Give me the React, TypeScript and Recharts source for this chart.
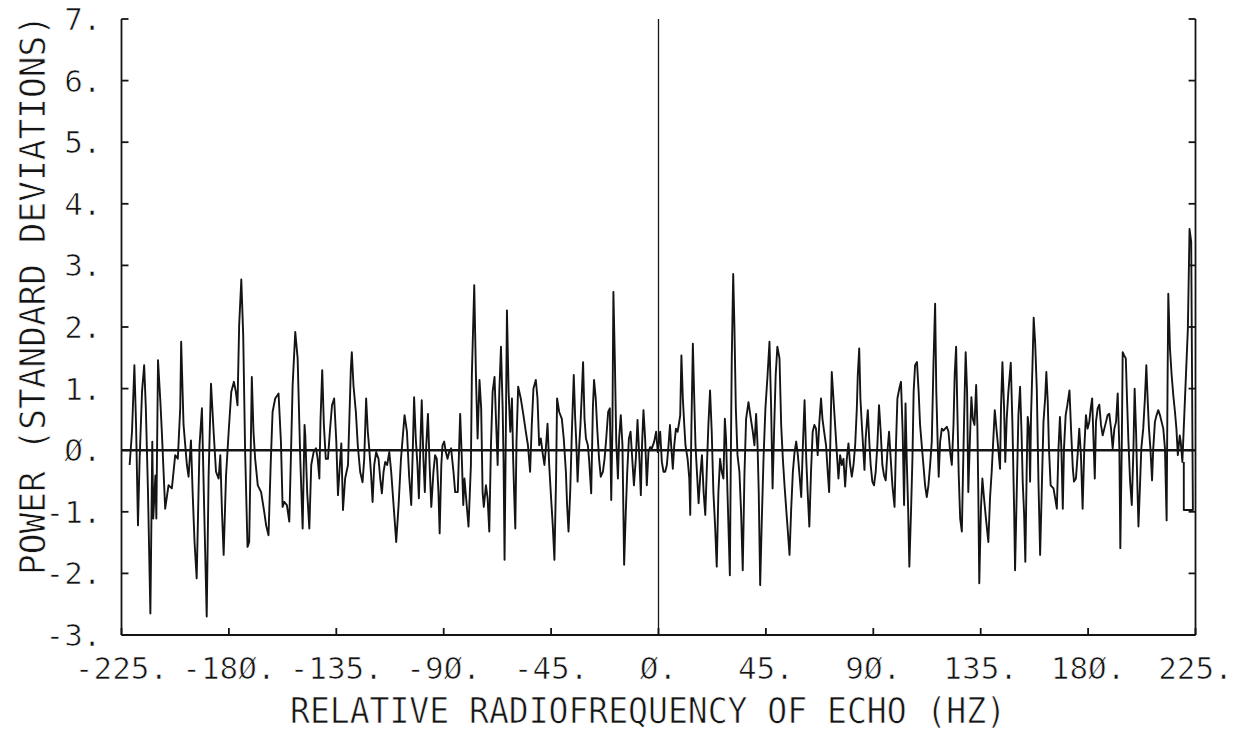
import { Label, Line, LineChart, ReferenceLine, XAxis, YAxis } from "recharts";

const xTicks = [-225, -180, -135, -90, -45, 0, 45, 90, 135, 180, 225];
const yTicks = [-3, -2, -1, 0, 1, 2, 3, 4, 5, 6, 7];

// [relative frequency (Hz), power (standard deviations)]
const bandA: [number, number][] = [
  [-221.6, -0.24], [-220.6, 0.3], [-219.6, 1.38], [-218.9, 0.41], [-218.1, -1.22], [-217.4, -0.14],
  [-216.4, 0.95], [-215.5, 1.38], [-214.8, 0.68], [-213.9, -0.68], [-212.9, -2.65], [-212.1, 0.14],
  [-211.7, -1.11], [-210.8, -0.41], [-210.4, -1.11], [-209.7, 1.46], [-208.7, 0.78], [-208.1, 0.3],
  [-206.7, -0.95], [-205.3, -0.57], [-203.9, -0.62], [-202.5, -0.08], [-201.4, -0.14], [-200.4, 0.68],
  [-200.0, 1.76], [-199.0, 0.41], [-197.6, -0.24], [-196.9, -0.43], [-195.9, 0.16], [-195.2, -0.68],
  [-194.4, -1.49], [-193.5, -2.08], [-192.3, 0.08], [-191.3, 0.68], [-190.2, -1.22], [-189.3, -2.7],
  [-188.5, -0.41], [-187.5, 1.08], [-186.4, 0.3], [-185.4, -0.35], [-184.3, -0.46], [-183.6, -0.08],
  [-182.9, -1.0], [-182.2, -1.7], [-181.2, -0.41], [-180.1, 0.3], [-179.0, 0.95], [-177.9, 1.11],
  [-177.1, 0.95], [-176.4, 0.73], [-175.7, 2.03], [-174.8, 2.77], [-174.0, 1.86], [-173.2, -0.03],
  [-172.2, -1.57], [-171.5, -1.49], [-170.9, -0.14], [-170.4, 1.19], [-169.7, 0.3], [-169.0, -0.14],
  [-167.9, -0.57], [-166.5, -0.68], [-165.2, -1.0], [-164.4, -1.22], [-163.4, -1.38], [-162.5, -0.24],
  [-161.7, 0.62], [-160.6, 0.84], [-159.2, 0.92], [-158.2, 0.14], [-157.5, -0.92], [-156.8, -0.84],
  [-155.7, -0.89], [-154.7, -1.16], [-153.9, 0.08], [-153.3, 1.05], [-152.2, 1.92], [-151.2, 1.49],
  [-150.1, -0.14],
];

const bandB: [number, number][] = [
  [-149.1, -1.27], [-148.3, 0.41], [-148.0, 0.24], [-147.2, -0.68], [-146.3, -1.27], [-145.5, -0.24],
  [-144.5, -0.03], [-143.5, 0.03], [-142.8, -0.14], [-142.1, -0.46], [-141.6, 0.51], [-140.9, 1.3],
  [-140.2, 0.41], [-139.4, -0.14], [-138.5, -0.14], [-137.7, 0.3], [-136.8, 0.73], [-135.9, 0.84],
  [-135.0, 0.14], [-134.3, -0.73], [-133.5, -0.24], [-132.9, 0.11], [-132.2, -0.97], [-131.3, -0.46],
  [-130.1, -0.24], [-129.6, 0.41], [-128.9, 1.33], [-128.5, 1.59], [-127.8, 1.05], [-126.8, 0.62],
  [-126.0, 0.08], [-125.0, -0.35], [-124.0, -0.52], [-123.3, -0.14], [-122.5, 0.84], [-121.8, 0.3],
  [-121.2, 0.03], [-120.4, -0.41], [-119.8, -0.84], [-119.1, -0.24], [-118.3, -0.03], [-117.3, -0.14],
  [-116.6, -0.46], [-115.9, -0.7], [-115.2, -0.35], [-114.5, -0.19], [-113.7, -0.24], [-112.8, -0.03],
  [-112.0, -0.35], [-111.0, -0.89], [-109.9, -1.49], [-108.9, -0.89], [-107.9, -0.14], [-107.1, 0.24],
  [-106.4, 0.57], [-105.4, 0.3], [-104.5, -0.41], [-103.6, -0.89], [-102.9, 0.08], [-102.4, 0.86],
  [-101.7, 0.19], [-101.0, -0.24], [-100.4, -0.78], [-99.7, 0.19], [-99.2, 0.81], [-98.5, -0.14],
  [-97.9, -0.68], [-97.3, 0.08], [-96.6, 0.59], [-95.9, -0.24], [-95.2, -0.92], [-94.3, -0.35],
  [-93.6, -0.08], [-92.9, -0.14], [-92.2, -0.68], [-91.7, -1.35], [-91.0, -0.24], [-90.5, 0.08],
  [-89.8, 0.14], [-89.1, -0.03], [-88.4, -0.14], [-87.7, -0.03], [-86.9, 0.03], [-85.9, -0.35],
  [-85.2, -0.68], [-84.1, -0.68], [-83.1, 0.59], [-82.4, -0.14], [-81.8, -0.89], [-81.3, -0.46],
  [-80.6, -0.78], [-79.6, -1.24], [-78.6, -0.24], [-78.2, 1.22], [-77.2, 2.68], [-76.5, 1.22],
  [-75.8, 0.19], [-75.0, 1.14], [-74.3, 0.68], [-73.7, -0.68],
];

const bandC: [number, number][] = [
  [-73.2, -0.92], [-72.3, -0.57], [-71.6, -0.78], [-70.9, -1.32], [-70.2, 0.08], [-69.5, 0.95],
  [-68.7, 1.19], [-68.1, 0.51], [-67.4, -0.24], [-66.7, 0.95], [-66.0, 1.68], [-65.3, 0.68],
  [-64.9, -0.24], [-64.5, -1.78], [-64.0, 0.14], [-63.5, 2.27], [-62.8, 0.95], [-62.1, 0.3],
  [-61.4, 0.84], [-60.9, -0.14], [-60.5, -0.68], [-60.0, -1.27], [-59.5, 0.14], [-58.8, 1.03],
  [-57.7, 0.84], [-56.6, 0.57], [-55.6, 0.3], [-54.7, 0.08], [-53.8, -0.35], [-53.1, 0.41],
  [-52.4, 1.0], [-51.4, 1.14], [-50.7, 0.84], [-50.0, 0.08], [-49.3, 0.19], [-48.6, -0.03],
  [-47.8, -0.24], [-47.1, 0.08], [-46.5, 0.43], [-45.8, -0.24], [-45.0, -0.78], [-44.3, -1.22],
  [-43.6, -1.78], [-42.9, -0.41], [-42.5, 0.84], [-41.6, 0.62], [-40.5, 0.51], [-39.7, 0.19],
  [-38.8, -0.35], [-38.3, -0.89], [-37.7, -1.32], [-37.0, -0.68], [-36.3, 0.3], [-35.5, 1.22],
  [-34.9, 0.51], [-34.4, 0.08], [-33.9, -0.51], [-33.2, 0.08], [-32.7, 0.41], [-32.1, 0.95],
  [-31.6, 1.43], [-31.0, 0.51], [-30.4, 0.19], [-29.6, 0.08], [-29.1, -0.14], [-28.2, -0.7],
  [-27.5, 0.68], [-27.0, 1.14], [-26.3, 0.84], [-25.6, 0.3], [-24.9, -0.14], [-24.2, -0.43],
  [-23.3, -0.35], [-22.6, -0.14], [-21.9, 0.19], [-21.1, 0.62], [-20.4, 0.68], [-19.8, -0.81],
  [-19.3, 0.41], [-18.9, 2.57], [-18.3, 1.49], [-17.7, 0.14], [-17.0, -0.46], [-16.5, 0.19],
  [-15.8, 0.57], [-15.1, 0.08], [-14.4, -1.86], [-13.7, -1.0], [-13.1, -0.35], [-12.4, 0.19],
  [-11.7, 0.3], [-11.0, -0.14], [-10.3, -0.57], [-9.5, -0.14], [-8.8, 0.49], [-8.0, -0.14],
  [-7.4, -0.73], [-6.9, 0.08], [-6.3, 0.65], [-5.6, 0.19], [-4.9, -0.57], [-4.2, -0.03],
  [-3.5, 0.05], [-2.8, 0.03], [-1.8, 0.14], [-1.0, 0.3], [-0.3, -0.03],
];

const bandD: [number, number][] = [
  [0.7, 0.3], [1.4, -0.19], [2.1, -0.35], [2.8, -0.35], [3.5, -0.24], [4.2, 0.08], [4.8, 0.41],
  [5.3, 0.08], [6.0, -0.3], [6.6, 0.08], [7.3, 0.35], [8.0, 0.3], [8.7, 0.46], [9.1, 0.57],
  [9.6, 1.54], [10.2, 0.84], [10.8, 0.41], [11.3, 0.08], [12.2, -0.14], [12.9, -0.46], [13.3, -1.05],
  [13.8, 0.41], [14.4, 1.73], [14.9, 0.95], [15.5, 0.08], [16.1, -0.35], [16.8, -0.86], [17.5, -0.41],
  [18.2, -0.08], [18.9, -0.68], [19.6, -1.05], [20.3, -0.24], [20.9, 0.41], [21.6, 0.97], [22.3, 0.3],
  [23.0, -0.68], [23.7, -1.22], [24.4, -1.89], [25.1, -0.68], [25.8, -0.14], [26.5, -0.35],
  [27.2, -0.46], [27.8, 0.51], [28.3, 0.19], [28.9, -0.68], [29.5, -1.49], [29.9, -2.03],
  [30.3, -0.14], [30.7, 1.49], [31.3, 2.86], [31.8, 2.03], [32.4, 0.68], [33.1, -0.08], [33.9, -0.35],
  [34.6, -1.0], [35.3, -1.95], [36.0, -0.41], [36.7, 0.51], [37.7, 0.78], [38.7, 0.51], [39.5, 0.3],
  [40.2, 0.08], [40.9, 0.59], [41.5, 0.08], [42.0, -0.68], [42.6, -2.19], [43.3, -1.11], [44.0, -0.14],
  [44.8, 0.68], [45.7, 1.22], [46.5, 1.76], [47.2, 0.68], [47.8, -0.62], [48.5, 0.41], [49.1, 1.22],
  [49.8, 1.68], [50.7, 1.49], [51.4, 0.41], [52.1, -0.14], [52.8, -0.57], [53.5, -0.95], [54.2, -1.32],
  [54.9, -1.7], [55.6, -0.95], [56.3, -0.35], [57.0, -0.03], [57.7, 0.14], [58.4, -0.08], [59.1, -0.41],
  [59.8, -0.76], [60.5, 0.08], [61.2, 0.81], [61.9, -0.14], [62.5, -0.68], [63.2, -1.24], [63.9, -0.35],
  [64.6, 0.3], [65.3, 0.41], [66.0, 0.35], [66.7, -0.08], [67.4, 0.46], [68.1, 0.84], [68.7, 0.51],
  [69.4, 0.3], [70.2, 0.08], [70.9, -0.35], [71.5, -0.68], [72.0, 0.14], [72.6, 1.27], [73.3, 0.84],
];

const bandE: [number, number][] = [
  [74.0, 0.41], [74.7, -0.03], [75.4, -0.46], [76.1, -0.08], [76.8, -0.24], [77.5, -0.14],
  [78.2, -0.59], [78.9, -0.14], [79.6, 0.11], [80.3, -0.24], [81.0, -0.43], [81.7, -0.24],
  [82.4, 0.08], [83.1, 0.68], [83.5, 1.22], [84.1, 1.65], [84.6, 0.84], [85.2, 0.41], [85.7, 0.08],
  [86.3, -0.32], [86.8, 0.19], [87.7, 0.65], [88.4, 0.08], [88.9, -0.24], [89.6, -0.51], [90.3, -0.57],
  [91.0, -0.35], [91.7, 0.08], [92.4, 0.73], [93.1, 0.3], [93.8, -0.24], [94.5, -0.41], [95.2, -0.49],
  [95.9, -0.03], [96.6, 0.3], [97.3, -0.14], [98.0, -0.57], [98.9, -0.92], [99.5, 0.08], [100.1, 0.84],
  [100.9, 1.0], [101.6, 1.11], [102.3, 0.3], [102.9, -0.89], [103.5, 0.76], [104.0, -0.14],
  [104.6, -0.95], [105.1, -1.89], [105.8, -1.0], [106.4, -0.14], [106.9, 0.95], [107.5, 1.38],
  [108.3, 1.43], [109.0, 0.95], [109.6, 0.41], [110.3, 0.08], [111.0, -0.24], [111.7, -0.57],
  [112.4, -0.76], [113.1, -0.57], [113.8, -0.24], [114.5, 0.14], [115.2, 1.38], [115.9, 2.38],
  [116.4, 0.95], [117.0, 0.08], [117.4, -0.43], [118.0, 0.14], [118.7, 0.35], [119.4, 0.32],
  [120.1, 0.35], [120.8, 0.38], [121.5, 0.3], [122.2, -0.03], [122.9, -0.24], [123.6, 0.41],
  [124.1, 1.22], [124.7, 1.68], [125.2, 0.68], [125.8, -0.41], [126.4, -1.11], [127.1, -1.32],
  [127.7, -0.14], [128.3, 0.95], [128.7, 1.59], [129.3, 0.95], [129.8, -0.68], [130.5, 0.19],
  [131.1, 0.86], [131.7, 0.51], [132.4, 0.41], [133.1, 1.06], [133.6, 0.41], [134.0, -0.68],
  [134.4, -2.16], [135.1, -0.95], [135.7, -0.46], [136.4, -0.78], [137.2, -1.11], [138.2, -1.49],
  [138.9, -0.78], [139.6, -0.35], [140.3, 0.19], [140.9, 0.65], [141.7, 0.3], [142.5, -0.03],
  [143.1, -0.3], [143.5, 0.68], [144.1, 1.43], [144.8, 0.68], [145.3, -0.19], [145.9, 0.51],
  [146.6, 0.95], [147.6, 1.42], [148.3, 0.41], [149.0, -0.95], [149.4, -1.95], [150.1, -0.68],
];

// last band ends with the pen's retrace along the right edge
const bandF: [number, number][] = [
  [150.8, 0.57], [151.5, 1.03], [152.1, 0.3], [152.6, -0.51], [153.2, -1.05], [153.7, -1.81],
  [154.3, -0.24], [154.7, 0.54], [155.3, 0.35], [155.7, -0.51], [156.1, 0.57], [156.7, 1.38],
  [157.2, 2.15], [157.8, 1.76], [158.5, 1.0], [159.2, -0.51], [159.9, -1.7], [160.6, -0.62],
  [161.3, 0.46], [162.0, 0.84], [162.5, 1.27], [163.1, 0.78], [163.6, 0.03], [164.3, -0.57],
  [165.5, -0.62], [166.2, -0.78], [166.9, -0.95], [167.6, 0.03], [168.2, 0.54], [168.8, 0.03],
  [169.4, -0.95], [169.9, 0.03], [170.6, 0.57], [171.3, 0.73], [172.2, 0.97], [172.9, 0.3],
  [173.6, -0.3], [174.1, -0.51], [174.9, -0.46], [175.6, -0.08], [176.3, 0.35], [177.0, -0.08],
  [177.7, -0.95], [178.4, 0.03], [179.1, 0.57], [179.8, 0.35], [180.5, 0.46], [181.1, 0.68],
  [181.7, 0.84], [182.2, 0.24], [182.8, -0.46], [183.3, 0.46], [184.0, 0.68], [184.7, 0.74],
  [185.4, 0.41], [186.1, 0.24], [186.8, 0.35], [187.5, 0.46], [188.2, 0.57], [188.9, 0.59],
  [189.6, 0.35], [190.3, 0.03], [191.0, 0.35], [191.7, 0.46], [192.4, 0.92], [193.1, 0.03],
  [193.5, -1.59], [194.1, 0.03], [194.5, 1.59], [195.1, 1.54], [195.8, 1.49], [196.3, 0.84],
  [196.9, 0.14], [197.6, -0.51], [198.3, -0.89], [199.0, 0.03], [199.5, 1.0], [200.1, 0.3],
  [200.6, -0.51], [201.1, -1.24], [201.8, -0.51], [202.3, 0.03], [203.1, 0.35], [203.8, 0.84],
  [204.4, 1.38], [205.0, 0.78], [205.5, 0.35], [206.1, 0.03], [206.8, -0.49], [207.3, 0.03],
  [208.0, 0.46], [208.7, 0.57], [209.4, 0.65], [210.1, 0.57], [210.8, 0.46], [211.5, 0.35],
  [212.2, 0.03], [212.9, -1.14], [213.3, 1.11], [213.6, 2.54], [214.3, 1.65], [215.0, 1.22],
  [215.7, 0.89], [216.4, 0.62], [217.0, 0.35], [217.6, -0.08], [218.4, 0.24], [218.8, 0.14],
  [219.5, -0.19], [221.8, 1.97], [222.5, 3.59], [223.2, 3.38], [223.9, -0.97], [220.1, -0.97],
  [220.1, -0.19],
];

const spectrum = [...bandA, ...bandB, ...bandC, ...bandD, ...bandE, ...bandF].map(([f, p]) => ({ f, p }));

const INK = "#141414";
const FONT = "'DejaVu Sans Mono', 'Liberation Mono', monospace";
// inward tick length on the right frame, in Hz (about 7px)
const RIGHT_TICK = 2.9;

// plotter style: slashed zero and a trailing point
const fmt = (n: number) => `${n}.`.replace(/0/g, "\u00D8");

const thin = { stroke: "#fff", strokeWidth: 0.7 };

function BottomTick({ x, y, payload }: any) {
  return (
    <g>
      <line x1={x} y1={y} x2={x} y2={y - 7} stroke={INK} strokeWidth={1.8} />
      <text x={x} y={y + 44} textAnchor="middle" fontFamily={FONT} fontSize={31} fill={INK} {...thin}>
        {fmt(payload.value)}
      </text>
    </g>
  );
}

function LeftTick({ x, y, payload }: any) {
  return (
    <g>
      <line x1={x} y1={y} x2={x + 7} y2={y} stroke={INK} strokeWidth={1.8} />
      <text x={x - 20} y={y + 11} textAnchor="end" fontFamily={FONT} fontSize={31} fill={INK} {...thin}>
        {fmt(payload.value)}
      </text>
    </g>
  );
}

export default function App() {
  const axisLine = { stroke: INK, strokeWidth: 1.8 };
  return (
    <div style={{ position: "absolute", left: 0, top: 0, background: "#fff" }}>
      <LineChart width={1258} height={731} data={spectrum} margin={{ top: 19, right: 62.5, bottom: 0, left: 0 }}>
        <XAxis
          dataKey="f"
          type="number"
          domain={[-225, 225]}
          ticks={xTicks}
          interval={0}
          allowDataOverflow
          height={96}
          tickSize={0}
          tickMargin={0}
          tickLine={false}
          axisLine={axisLine}
          tick={<BottomTick />}
        >
          <Label
            content={() => (
              <text
                x={648}
                y={723}
                textAnchor="middle"
                fontFamily={FONT}
                fontSize={36}
                textLength={716}
                lengthAdjust="spacingAndGlyphs"
                fill={INK}
                {...thin}
              >
                RELATIVE RADIOFREQUENCY OF ECHO (HZ)
              </text>
            )}
          />
        </XAxis>
        <XAxis xAxisId="top" orientation="top" type="number" domain={[-225, 225]} height={0} tick={false} tickLine={false} axisLine={axisLine} />
        <YAxis
          type="number"
          domain={[-3, 7]}
          ticks={yTicks}
          interval={0}
          allowDataOverflow
          width={121.5}
          tickSize={0}
          tickMargin={0}
          tickLine={false}
          axisLine={axisLine}
          tick={<LeftTick />}
        >
          <Label
            content={() => (
              <g transform="translate(32, 295) rotate(-90)">
                <text
                  x={0}
                  y={13}
                  textAnchor="middle"
                  fontFamily={FONT}
                  fontSize={35}
                  textLength={560}
                  lengthAdjust="spacingAndGlyphs"
                  fill={INK}
                  {...thin}
                >
                  POWER (STANDARD DEVIATIONS)
                </text>
              </g>
            )}
          />
        </YAxis>
        <ReferenceLine x={225} stroke={INK} strokeWidth={1.8} />
        {yTicks.map((t) => (
          <ReferenceLine
            key={t}
            segment={[
              { x: 225 - RIGHT_TICK, y: t },
              { x: 225, y: t },
            ]}
            stroke={INK}
            strokeWidth={1.8}
          />
        ))}
        <ReferenceLine x={0} stroke={INK} strokeWidth={1.3} />
        <ReferenceLine y={0} stroke={INK} strokeWidth={2.6} />
        <Line
          type="linear"
          dataKey="p"
          stroke={INK}
          strokeWidth={1.9}
          strokeLinejoin="round"
          dot={false}
          activeDot={false}
          isAnimationActive={false}
        />
      </LineChart>
    </div>
  );
}
